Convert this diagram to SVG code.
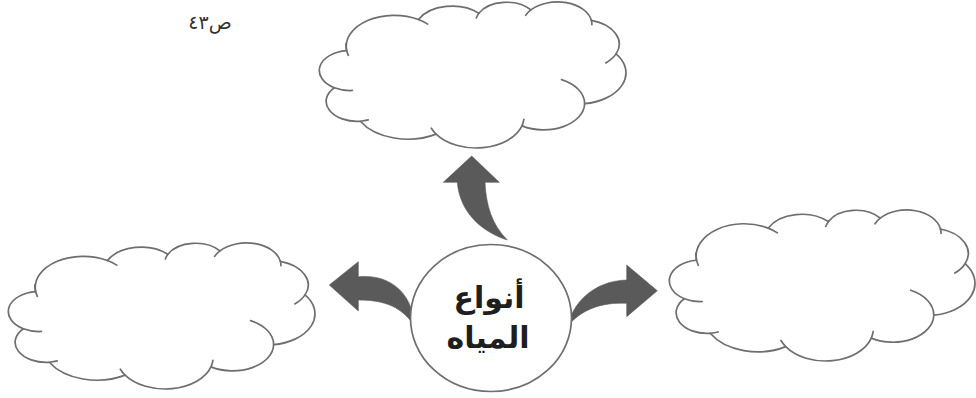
<svg xmlns="http://www.w3.org/2000/svg" xmlns:xlink="http://www.w3.org/1999/xlink" width="976" height="398" viewBox="0 0 976 398">
<style>
.cloud-outline{fill:#ffffff;stroke:#6e6e6e;stroke-width:1.7;vector-effect:non-scaling-stroke;stroke-linejoin:round}
.cloud-inner{fill:none;stroke:#6e6e6e;stroke-width:1.7;vector-effect:non-scaling-stroke;stroke-linecap:round}
.hub{fill:#ffffff;stroke:#6e6e6e;stroke-width:1.7}
.arrow{fill:#5a5a5a;stroke:#5a5a5a;stroke-width:0.6;stroke-linejoin:round}
.lbl{font-family:"DejaVu Sans",sans-serif;font-weight:bold;font-size:30px;fill:#1e1e1e;text-anchor:middle}
.page{font-family:"DejaVu Sans",sans-serif;font-size:19px;fill:#333333;text-anchor:middle}
</style>
<defs>
<g id="cloudShape">
<path class="cloud-outline" d="M3900 14370 A6753 9190 0 0 1 14000 5192 A5333 7267 0 0 1 22500 3329 A4365 5945 0 0 1 29820 2341 A4857 6595 0 0 1 38324 5426 A5333 7273 0 0 1 41798 15354 A6775 9220 0 0 1 37380 30090 A5785 7867 0 0 1 28560 36660 A6752 9215 0 0 1 16478 39090 A7720 10543 0 0 1 5820 35280 A4360 5918 0 0 1 2160 25380 A4345 5945 0 0 1 3900 14370 Z"/>
<path class="cloud-inner" d="M4693 26177 A4345 5945 0 0 1 2160 25380 M6928 34899 A4360 5918 0 0 1 5820 35280 M16478 39090 A6752 9215 0 0 1 15810 37350 M28827 34751 A6752 9215 0 0 1 28560 36660 M34129 22954 A5785 7867 0 0 1 37380 30090 M41798 15354 A5333 7273 0 0 1 40350 18030 M38324 5426 A4857 6595 0 0 1 38400 6690 M29078 3952 A4857 6595 0 0 1 29820 2341 M22141 4720 A4365 5945 0 0 1 22500 3329 M14000 5192 A6753 9190 0 0 1 15300 6540 M4127 15789 A6753 9190 0 0 1 3793 12356"/>
</g>
</defs>

<g id="page-number">
<text class="page" x="210" y="29">ص٤٣</text>
</g>

<g id="cloud-top" transform="translate(319,2) scale(0.0071065,0.0033796)">
<use href="#cloudShape" xlink:href="#cloudShape"/>
</g>

<g id="cloud-left" transform="translate(8,243) scale(0.0071065,0.0033796)">
<use href="#cloudShape" xlink:href="#cloudShape"/>
</g>

<g id="cloud-right" transform="translate(669,210) scale(0.0070833,0.0034954)">
<use href="#cloudShape" xlink:href="#cloudShape"/>
</g>

<g id="connectors">
<path class="arrow" d="M471.7 156 L499.3 182.3 L485 182.3 C486 205 492 225 507.3 240 C485 233 460 215 457.3 182.3 L443.3 182.3 Z"/>
<path class="arrow" d="M329.3 285 L358.3 261.7 L358.3 276.7 C385 274 412 288 415 326.7 C405 312 392 300 358.3 300 L358.3 311 Z"/>
<path class="arrow" d="M657.3 290.7 L626.7 316.7 L626.7 303.3 C600 302 582 310 568.3 325 C572 305 592 281 626.7 280 L626.7 265 Z"/>
</g>

<g id="hub">
<ellipse class="hub" cx="491" cy="318" rx="80.5" ry="73.5"/>
<text class="lbl" x="489" y="308">أنواع</text>
<text class="lbl" x="488" y="348">المياه</text>
</g>
</svg>
